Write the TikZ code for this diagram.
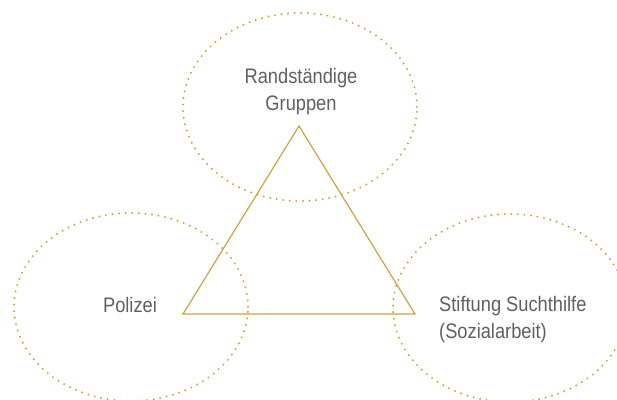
\documentclass[tikz,border=0pt]{standalone}
\usepackage{fontspec}
\setmainfont[FakeStretch=0.87]{Liberation Sans}
\usetikzlibrary{shapes.geometric}
\definecolor{gold}{RGB}{210,162,64}
\definecolor{txtgray}{RGB}{96,96,96}

\begin{document}
\begin{tikzpicture}[x=1pt, y=-1pt,
    ring/.style = {ellipse, draw=gold, line width=2.2pt, line cap=round,
                   dash pattern=on 0pt off 6.6pt,
                   minimum width=234pt, minimum height=188pt, inner sep=0pt},
    label/.style = {text=txtgray, font=\fontsize{21}{27}\selectfont}]
    \useasboundingbox (0,0) rectangle (617,399);
    % the three groups
    \node [ring] (gruppen)    at (300,107) {};
    \node [ring] (polizei)    at (131,307) {};
    \node [ring] (suchthilfe) at (510,308) {};
    % triangle between them
    \coordinate (A) at (299,126);
    \coordinate (B) at (183,314);
    \coordinate (C) at (415,314);
    \draw [gold, line width=1.2pt, line join=miter] (A) -- (B) -- (C) -- cycle;
    % labels
    \node [label, align=center, anchor=base] (tgruppen) at (301,110) {Randständige\\Gruppen};
    \node [label, anchor=base] (tpolizei) at (130,312) {Polizei};
    \node [label, align=left, anchor=base west, inner sep=0pt] (tsucht) at (439,338) {Stiftung Suchthilfe\\(Sozialarbeit)};
\end{tikzpicture}
\end{document}
